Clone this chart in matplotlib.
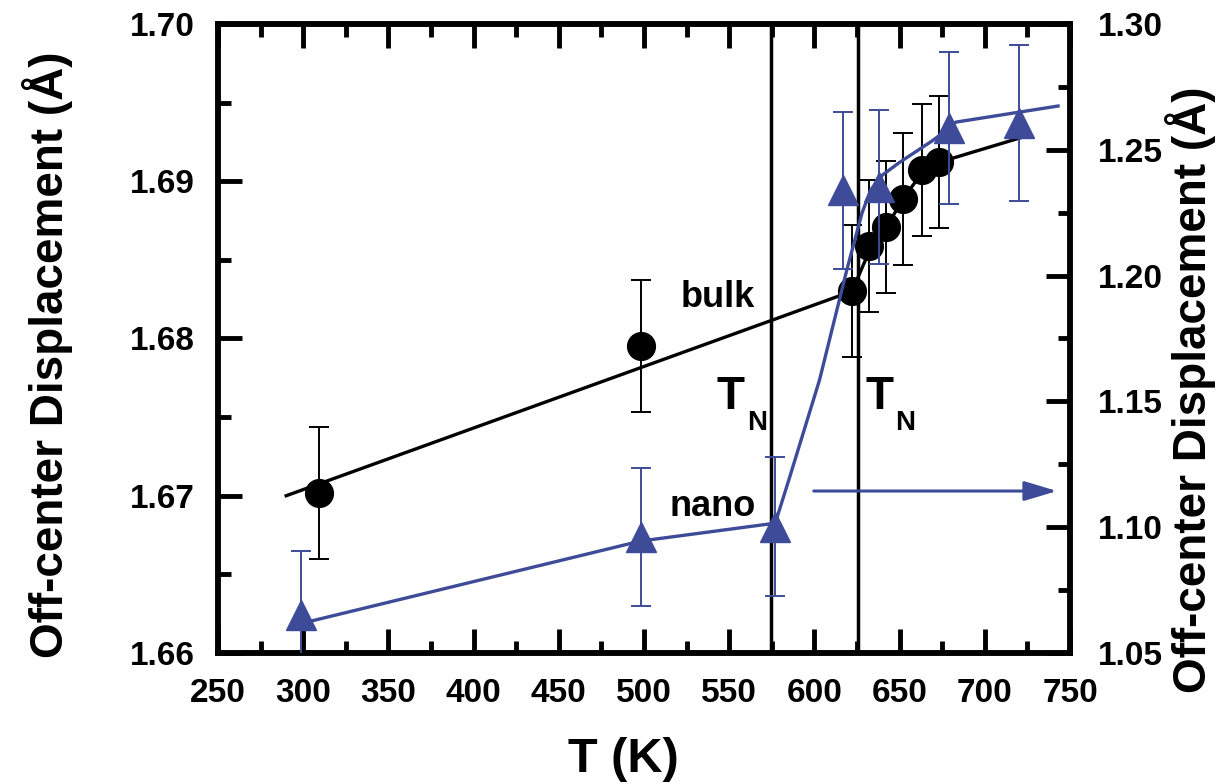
import matplotlib
matplotlib.use("Agg")
import matplotlib.pyplot as plt
import matplotlib.font_manager as fm
from matplotlib.ticker import MultipleLocator, FormatStrFormatter

# bulk: black circles, left axis
bulk_T = [309, 498, 622, 632, 642, 652, 663, 673]
bulk_D = [1.6702, 1.6795, 1.6830, 1.6859, 1.6871, 1.6889, 1.6907, 1.6912]
bulk_err = [0.0042, 0.0042, 0.0042, 0.0042, 0.0042, 0.0042, 0.0042, 0.0042]
bulk_fit_T = [290, 622, 632, 642, 652, 663, 673, 722]
bulk_fit_D = [1.6700, 1.6830, 1.6855, 1.6870, 1.6889, 1.6905, 1.6912, 1.6928]

# nano: blue triangles, right axis
nano_T = [299, 498, 577, 617, 638, 679, 720]
nano_D = [1.0651, 1.0961, 1.1002, 1.2340, 1.2352, 1.2587, 1.2607]
nano_err = [0.0254, 0.0273, 0.0276, 0.0312, 0.0306, 0.0303, 0.0310]
nano_fit_T = [301, 498, 577, 585, 603, 619, 628, 633, 640, 650, 669, 677, 683, 743]
nano_fit_D = [1.0621, 1.0945, 1.1016, 1.1188, 1.1585, 1.2022, 1.2250, 1.2340,
              1.2400, 1.2450, 1.2535, 1.2575, 1.2610, 1.2674]

TN_lines = [574.5, 625.3]

blue = '#3d4b98'

names = {f.name for f in fm.fontManager.ttflist}
if 'Liberation Sans Narrow' in names:
    lab_font, lab_size = 'Liberation Sans Narrow', 40
else:
    lab_font, lab_size = 'Liberation Sans', 33

plt.rcParams['font.family'] = ['Liberation Sans', 'DejaVu Sans']
plt.rcParams['font.weight'] = 'bold'

fig = plt.figure(figsize=(12.24, 7.84), dpi=100)
ax = fig.add_axes([218/1224, 1-653/784, (1070-218)/1224, (653-24)/784])
ax2 = ax.twinx()

for a in (ax, ax2):
    for s in a.spines.values():
        s.set_linewidth(4)

ax.set_xlim(250, 750)
ax.set_ylim(1.66, 1.70)
ax2.set_ylim(1.05, 1.30)

ax.xaxis.set_major_locator(MultipleLocator(50))
ax.xaxis.set_minor_locator(MultipleLocator(25))
ax.yaxis.set_major_locator(MultipleLocator(0.01))
ax.yaxis.set_minor_locator(MultipleLocator(0.005))
ax.yaxis.set_major_formatter(FormatStrFormatter('%.2f'))
ax2.yaxis.set_major_locator(MultipleLocator(0.05))
ax2.yaxis.set_minor_locator(MultipleLocator(0.025))
ax2.yaxis.set_major_formatter(FormatStrFormatter('%.2f'))

ax.tick_params(axis='x', which='both', direction='in', top=True, width=3.5,
               labelsize=24, pad=18)
ax.tick_params(axis='y', which='both', direction='in', right=False, width=3.5,
               labelsize=24, pad=17)
ax2.tick_params(axis='y', which='both', direction='in', width=3.5,
                labelsize=24, pad=20)
for a in (ax, ax2):
    a.tick_params(which='major', length=17)
    a.tick_params(which='minor', length=9)

for t in TN_lines:
    ax.axvline(t, color='k', lw=2.5, zorder=1)

ax.plot(bulk_fit_T, bulk_fit_D, color='k', lw=2.4, zorder=2)
ax.errorbar(bulk_T, bulk_D, yerr=bulk_err, fmt='o', color='k', ms=20,
            capsize=7, elinewidth=1.4, capthick=1.4, zorder=3)

ax2.plot(nano_fit_T, nano_fit_D, color=blue, lw=2.4, zorder=2)
ax2.errorbar(nano_T, nano_D, yerr=nano_err, fmt='^', color=blue, ms=21,
             capsize=7, elinewidth=1.4, capthick=1.4, zorder=3)

ax.annotate('', xy=(744, 1.6703), xytext=(598, 1.6703),
            arrowprops=dict(arrowstyle='-|>,head_length=1.0,head_width=0.3',
                            color=blue, lw=2.2, mutation_scale=20))

ax.text(543, 1.6820, 'bulk', fontsize=26, fontweight='bold', ha='center', va='baseline')
ax.text(540, 1.6687, 'nano', fontsize=26, fontweight='bold', ha='center', va='baseline')

ax.text(542.8, 1.6755, 'T', fontsize=33, fontweight='bold', ha='left', va='baseline')
ax.text(560.4, 1.6742, 'N', fontsize=20, fontweight='bold', ha='left', va='baseline')
ax.text(629.8, 1.6755, 'T', fontsize=33, fontweight='bold', ha='left', va='baseline')
ax.text(647.3, 1.6742, 'N', fontsize=20, fontweight='bold', ha='left', va='baseline')

ax.set_xlabel('T (K)', fontsize=35, fontweight='bold')
ax.xaxis.label.set_va('baseline')
ax.xaxis.set_label_coords((623-218)/852, (653-772)/629)

ylab = 'Off-center Displacement (Å)'
ax.set_ylabel(ylab, fontsize=lab_size, fontweight='bold', family=[lab_font, 'DejaVu Sans'])
ax.yaxis.label.set_va('center')
ax.yaxis.set_label_coords((48-218)/852, (653-355)/629)
ax2.set_ylabel(ylab, fontsize=lab_size, fontweight='bold', family=[lab_font, 'DejaVu Sans'])
ax2.yaxis.label.set_va('center')
ax2.yaxis.set_label_coords((1190-218)/852, (653-390)/629)

fig.savefig('out.png', dpi=100)
